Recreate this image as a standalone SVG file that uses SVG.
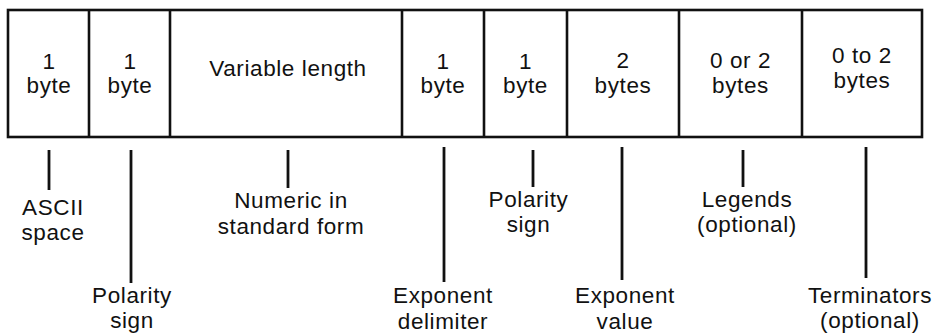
<svg xmlns="http://www.w3.org/2000/svg" width="938" height="334" viewBox="0 0 938 334">
<style>
.box{fill:#fff;stroke:#111;stroke-width:2.6}
.div{stroke:#111;stroke-width:2.6}
.ln{stroke:#111;stroke-width:2.8}
text{font-family:"Liberation Sans",Arial,sans-serif;font-size:22.5px;fill:#111;text-anchor:middle;letter-spacing:0.6px}
</style>
<rect width="938" height="334" fill="#fff"/>
<g id="record">
<rect class="box" x="8" y="10" width="914" height="127"/>
<line class="div" x1="89" y1="10" x2="89" y2="137"/>
<line class="div" x1="170" y1="10" x2="170" y2="137"/>
<line class="div" x1="402" y1="10" x2="402" y2="137"/>
<line class="div" x1="484" y1="10" x2="484" y2="137"/>
<line class="div" x1="567" y1="10" x2="567" y2="137"/>
<line class="div" x1="679" y1="10" x2="679" y2="137"/>
<line class="div" x1="802" y1="10" x2="802" y2="137"/>
</g>
<g id="cell1"><text x="49" y="69">1</text><text x="49" y="93">byte</text></g>
<g id="cell2"><text x="130" y="69">1</text><text x="130" y="93">byte</text></g>
<g id="cell3"><text x="288" y="76">Variable length</text></g>
<g id="cell4"><text x="443" y="69">1</text><text x="443" y="93">byte</text></g>
<g id="cell5"><text x="525.5" y="69">1</text><text x="525.5" y="93">byte</text></g>
<g id="cell6"><text x="623" y="68">2</text><text x="623" y="93">bytes</text></g>
<g id="cell7"><text x="740.5" y="68">0 or 2</text><text x="740.5" y="93">bytes</text></g>
<g id="cell8"><text x="862" y="63">0 to 2</text><text x="862" y="88">bytes</text></g>
<g id="connectors">
<line class="ln" x1="49" y1="150" x2="49" y2="190"/>
<line class="ln" x1="131" y1="150" x2="131" y2="283"/>
<line class="ln" x1="288" y1="150" x2="288" y2="188"/>
<line class="ln" x1="444" y1="147" x2="444" y2="282"/>
<line class="ln" x1="533" y1="150" x2="533" y2="187"/>
<line class="ln" x1="622" y1="147" x2="622" y2="280"/>
<line class="ln" x1="743" y1="150" x2="743" y2="187"/>
<line class="ln" x1="866" y1="147" x2="866" y2="278"/>
</g>
<g id="label-ascii"><text x="53" y="215">ASCII</text><text x="53" y="240">space</text></g>
<g id="label-polarity1"><text x="132" y="303">Polarity</text><text x="132" y="328">sign</text></g>
<g id="label-numeric"><text x="291" y="208">Numeric in</text><text x="291" y="234">standard form</text></g>
<g id="label-expdelim"><text x="443" y="303">Exponent</text><text x="443" y="329">delimiter</text></g>
<g id="label-polarity2"><text x="528.5" y="207">Polarity</text><text x="528.5" y="232">sign</text></g>
<g id="label-expvalue"><text x="625" y="303">Exponent</text><text x="625" y="329">value</text></g>
<g id="label-legends"><text x="747" y="207">Legends</text><text x="747" y="232">(optional)</text></g>
<g id="label-terminators"><text x="870" y="303">Terminators</text><text x="870" y="328">(optional)</text></g>
</svg>
